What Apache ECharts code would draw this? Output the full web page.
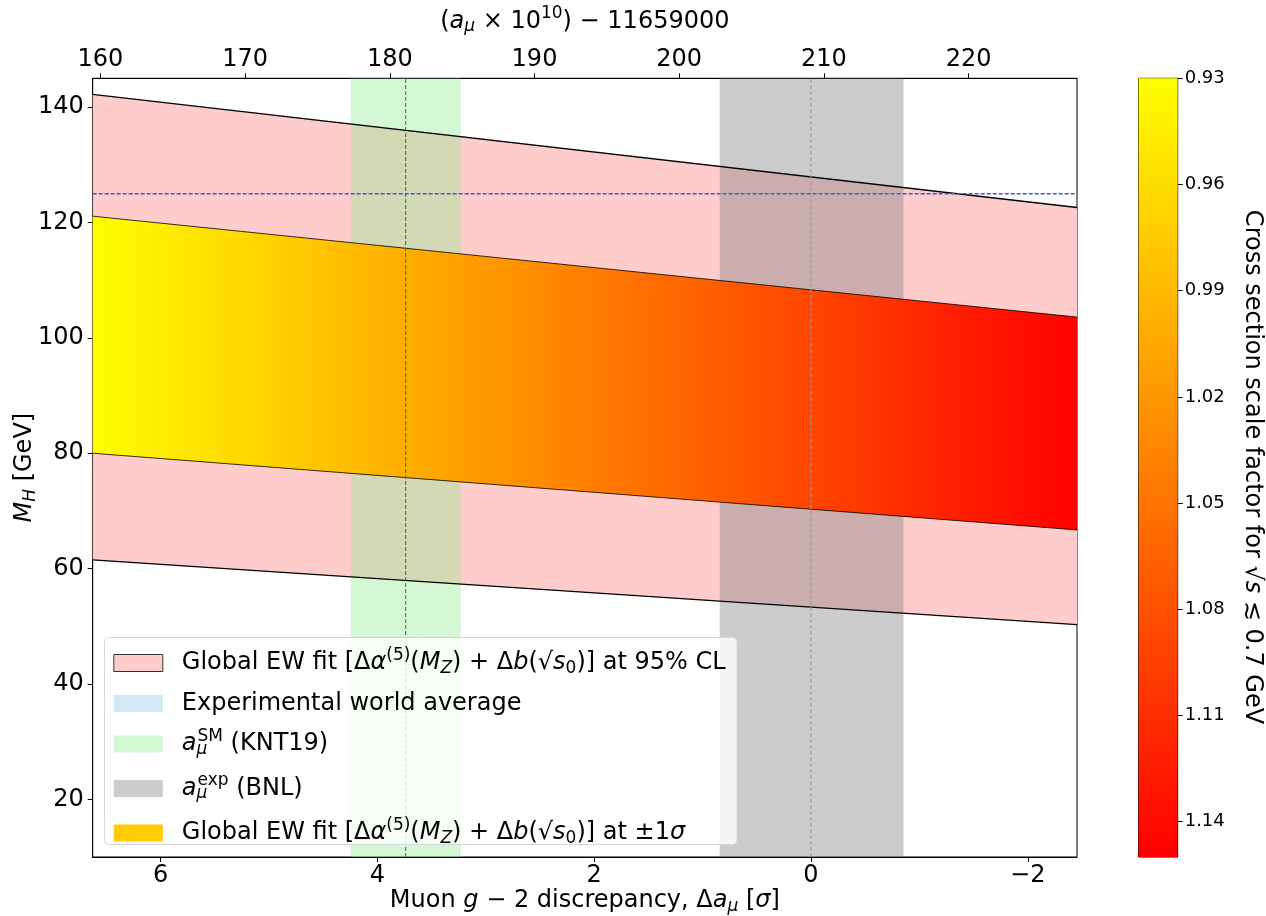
<!DOCTYPE html>
<html lang="en">
<head>
<meta charset="UTF-8">
<title>Global EW fit vs muon g-2</title>
<script src="https://cdn.jsdelivr.net/npm/echarts@6/dist/echarts.min.js"></script>
<style>
html, body { margin: 0; padding: 0; background: #fff; }
#chart { width: 1266px; height: 916px; }
</style>
</head>
<body>
<div id="chart"></div>
<script>
// band edges, x in sigma units (left edge, right edge)
var sigmaEdges = [6.626, -2.454];
var ew95Upper = [142.2, 122.6];
var ew1sUpper = [121.1, 103.6];
var ew1sLower = [80.0, 66.7];
var ew95Lower = [61.5, 50.3];
// vertical bands, top axis units (a_mu x 1e10 - 11659000)
var smBand = [177.3, 184.9], smCentral = 181.1;
var bnlBand = [202.8, 215.5], bnlCentral = 209.1;
var higgsMass = 125;
// axis ranges and ticks
var sigmaRange = [-2.454, 6.626];
var topRange = [159.47, 227.49];
var mhRange = [10, 145];
var sigmaTicks = [-2, 0, 2, 4, 6];
var topTicks = [160, 170, 180, 190, 200, 210, 220];
var mhTicks = [20, 40, 60, 80, 100, 120, 140];
var cbTicks = [0.93, 0.96, 0.99, 1.02, 1.05, 1.08, 1.11, 1.14];
var cbRange = [0.93, 1.15];

var FONT = 'DejaVu Sans';
var rich = {
	n: { fontFamily: FONT, fontSize: 24, lineHeight: 28, color: '#000' },
	i: { fontFamily: FONT, fontSize: 24, lineHeight: 28, fontStyle: 'italic', color: '#000' },
	sup: { fontFamily: FONT, fontSize: 17, lineHeight: 28, padding: [0, 0, 15, 0], color: '#000' },
	sub: { fontFamily: FONT, fontSize: 17, lineHeight: 28, padding: [11, 0, 0, 0], color: '#000' },
	isub: { fontFamily: FONT, fontSize: 17, lineHeight: 28, fontStyle: 'italic', padding: [11, 0, 0, 0], color: '#000' },
	isubz: { fontFamily: FONT, fontSize: 17, lineHeight: 28, fontStyle: 'italic', padding: [11, 0, 0, 0], width: 1, color: '#000' },
	gap: { width: 14 }
};

var N95 = 'ew95', NEXP = 'expavg', NSM = 'sm', NBNL = 'bnl', N1S = 'ew1s';
var ewFit = '{n|Global EW fit [Δ}{i|α}{sup|(5)}{n|(}{i|M}{isub|Z}{n|) + Δ}{i|b}{n|(√}{i|s}{sub|0}{n|)]';
var legendText = {};
legendText[N95] = ewFit + ' at 95% CL}';
legendText[NEXP] = '{n|Experimental world average}';
legendText[NSM] = '{i|a}{isubz|μ}{sup|SM}{n| (KNT19)}';
legendText[NBNL] = '{i|a}{isubz|μ}{sup|exp}{n| (BNL)}';
legendText[N1S] = ewFit + ' at ±1}{i|σ}';

function bandRender(upper, lower, fillFn) {
	return function (params, api) {
		var pts = [];
		for (var i = 0; i < sigmaEdges.length; i++) pts.push(api.coord([sigmaEdges[i], upper[i]]));
		for (var j = sigmaEdges.length - 1; j >= 0; j--) pts.push(api.coord([sigmaEdges[j], lower[j]]));
		return { type: 'polygon', shape: { points: pts }, style: { fill: fillFn(api) } };
	};
}
function vbandRender(band, color) {
	return function (params, api) {
		var cs = params.coordSys;
		var a = api.coord([band[0], mhRange[0]])[0];
		var b = api.coord([band[1], mhRange[0]])[0];
		return { type: 'rect', shape: { x: Math.min(a, b), y: cs.y, width: Math.abs(b - a), height: cs.height }, style: { fill: color } };
	};
}
function edgeLine(vals, w) {
	return {
		type: 'line', xAxisIndex: 0, yAxisIndex: 0, z: 6, silent: true, symbol: 'none',
		data: sigmaEdges.map(function (x, i) { return [x, vals[i]]; }),
		lineStyle: { color: '#000', width: w }
	};
}
function vline(x, color, dash) {
	return {
		type: 'line', xAxisIndex: 1, yAxisIndex: 0, z: 7, silent: true, symbol: 'none',
		data: [[x, mhRange[0]], [x, mhRange[1]]],
		lineStyle: { color: color, width: 1, type: dash }
	};
}

var axisCommon = {
	axisLine: { show: true, onZero: false, lineStyle: { color: '#000', width: 1 } },
	splitLine: { show: false },
	nameMoveOverlap: false
};

var chart = echarts.init(document.getElementById('chart'));
var option = {
	animation: false,
	backgroundColor: '#fff',
	textStyle: { fontFamily: FONT },
	grid: [
		{ left: 92.7, top: 78.3, width: 984.3, height: 778.7, show: true, borderColor: '#000', borderWidth: 1, outerBoundsMode: 'none' },
		{ left: 1138.5, top: 78.3, width: 39.2, height: 778.7, show: true, borderColor: '#000', borderWidth: 1, outerBoundsMode: 'none' }
	],
	xAxis: [
		Object.assign({}, axisCommon, {
			type: 'value', gridIndex: 0, position: 'bottom', inverse: true,
			min: sigmaRange[0], max: sigmaRange[1],
			axisTick: { show: true, length: 5, customValues: sigmaTicks, lineStyle: { color: '#000' } },
			axisLabel: { customValues: sigmaTicks, fontSize: 24, color: '#000', margin: 7, fontFamily: FONT,
				formatter: function (v) { return v < 0 ? '−' + Math.abs(v) : String(v); } },
			name: '{n|Muon }{i|g}{n| − 2 discrepancy, Δ}{i|a}{isub|μ}{n| [}{i|σ}{n|]}',
			nameLocation: 'middle', nameGap: 30,
			nameTextStyle: { rich: rich }
		}),
		Object.assign({}, axisCommon, {
			type: 'value', gridIndex: 0, position: 'top',
			min: topRange[0], max: topRange[1],
			axisTick: { show: true, length: 5, customValues: topTicks, lineStyle: { color: '#000' } },
			axisLabel: { customValues: topTicks, fontSize: 24, color: '#000', margin: 7, fontFamily: FONT },
			name: '{n|(}{i|a}{isub|μ}{n| × 10}{sup|10}{n|) − 11659000}',
			nameLocation: 'middle', nameGap: 43,
			nameTextStyle: { rich: rich }
		}),
		{ type: 'value', gridIndex: 1, min: 0, max: 1, show: false }
	],
	yAxis: [
		Object.assign({}, axisCommon, {
			type: 'value', gridIndex: 0, min: mhRange[0], max: mhRange[1],
			axisTick: { show: true, length: 5, customValues: mhTicks, lineStyle: { color: '#000' } },
			axisLabel: { customValues: mhTicks, fontSize: 24, color: '#000', margin: 9, fontFamily: FONT },
			name: '{i|M}{isub|H}{n| [GeV]}',
			nameLocation: 'middle', nameGap: 54,
			nameTextStyle: { rich: rich }
		}),
		Object.assign({}, axisCommon, {
			type: 'value', gridIndex: 1, position: 'right', inverse: true,
			min: cbRange[0], max: cbRange[1],
			axisTick: { show: true, length: 5, customValues: cbTicks, lineStyle: { color: '#000' } },
			axisLabel: { customValues: cbTicks, fontSize: 18, color: '#000', margin: 7, fontFamily: FONT,
				formatter: function (v) { return v.toFixed(2); } }
		})
	],
	legend: {
		orient: 'vertical', left: 113.3, top: 647, padding: 0, z: 20,
		itemWidth: 49, itemHeight: 17, itemGap: 12.5,
		selectedMode: false,
		formatter: function (name) { return '{gap| }' + legendText[name]; },
		textStyle: { rich: rich },
		data: [
			{ name: N95, icon: 'rect', itemStyle: { color: '#ffcccc', borderColor: '#333', borderWidth: 1 } },
			{ name: NEXP, icon: 'rect', itemStyle: { color: '#d0e9f5', borderWidth: 0 } },
			{ name: NSM, icon: 'rect', itemStyle: { color: '#d3f8d3', borderWidth: 0 } },
			{ name: NBNL, icon: 'rect', itemStyle: { color: '#cccccc', borderWidth: 0 } },
			{ name: N1S, icon: 'rect', itemStyle: { color: '#ffcc00', borderWidth: 0 } }
		]
	},
	graphic: [
		{ type: 'rect', z: 15, silent: true,
			shape: { x: 104.5, y: 637.5, width: 632.5, height: 207, r: 4 },
			style: { fill: 'rgba(255,255,255,0.8)', stroke: '#d6d6d6', lineWidth: 1 } },
		{ type: 'text', z: 15, x: 1252, y: 467, rotation: -Math.PI / 2, silent: true,
			style: { text: '{n|Cross section scale factor for √}{i|s}{n| ≲ 0.7 GeV}', rich: rich, align: 'center', verticalAlign: 'middle' } }
	],
	series: [
		{ type: 'custom', name: N95, xAxisIndex: 0, yAxisIndex: 0, z: 1, silent: true, clip: true,
			data: [[sigmaEdges[0], ew95Upper[0]]],
			renderItem: bandRender(ew95Upper, ew95Lower, function () { return '#ffcccc'; }) },
		{ type: 'custom', name: NEXP, xAxisIndex: 0, yAxisIndex: 0, z: 1, silent: true, data: [],
			itemStyle: { color: '#d0e9f5' }, renderItem: function () { return null; } },
		{ type: 'custom', name: NSM, xAxisIndex: 1, yAxisIndex: 0, z: 2, silent: true, clip: true,
			data: [[smBand[0], higgsMass]],
			renderItem: vbandRender(smBand, 'rgba(144,238,144,0.4)') },
		{ type: 'custom', name: NBNL, xAxisIndex: 1, yAxisIndex: 0, z: 2, silent: true, clip: true,
			data: [[bnlBand[0], higgsMass]],
			renderItem: vbandRender(bnlBand, 'rgba(128,128,128,0.4)') },
		{ type: 'custom', name: N1S, xAxisIndex: 0, yAxisIndex: 0, z: 3, silent: true, clip: true,
			data: [[sigmaEdges[0], ew1sUpper[0]]],
			renderItem: bandRender(ew1sUpper, ew1sLower, function (api) {
				var l = api.coord([sigmaEdges[0], mhRange[0]])[0];
				var r = api.coord([sigmaEdges[1], mhRange[0]])[0];
				return new echarts.graphic.LinearGradient(l, 0, r, 0, [
					{ offset: 0, color: '#ffff00' }, { offset: 1, color: '#ff0000' }
				], true);
			}) },
		edgeLine(ew95Upper, 1.3),
		edgeLine(ew95Lower, 1.3),
		edgeLine(ew1sUpper, 0.8),
		edgeLine(ew1sLower, 0.8),
		vline(smCentral, '#1a8a1a', [4, 2]),
		vline(bnlCentral, '#999999', [4, 2]),
		{ type: 'line', xAxisIndex: 0, yAxisIndex: 0, z: 7, silent: true, symbol: 'none',
			data: [[sigmaEdges[0], higgsMass], [sigmaEdges[1], higgsMass]],
			lineStyle: { color: '#4358d4', width: 1.5, type: [4, 2] } },
		// colour bar
		{ type: 'custom', xAxisIndex: 2, yAxisIndex: 1, z: 2, silent: true,
			data: [[0, cbRange[0]]],
			renderItem: function (params, api) {
				var p0 = api.coord([0, cbRange[0]]);
				var p1 = api.coord([1, cbRange[1]]);
				return { type: 'rect',
					shape: { x: p0[0], y: Math.min(p0[1], p1[1]), width: p1[0] - p0[0], height: Math.abs(p1[1] - p0[1]) },
					style: { fill: new echarts.graphic.LinearGradient(0, p0[1], 0, p1[1], [
						{ offset: 0, color: '#ffff00' }, { offset: 1, color: '#ff0000' }
					], true) } };
			} }
	]
};
chart.setOption(option);
</script>
</body>
</html>
